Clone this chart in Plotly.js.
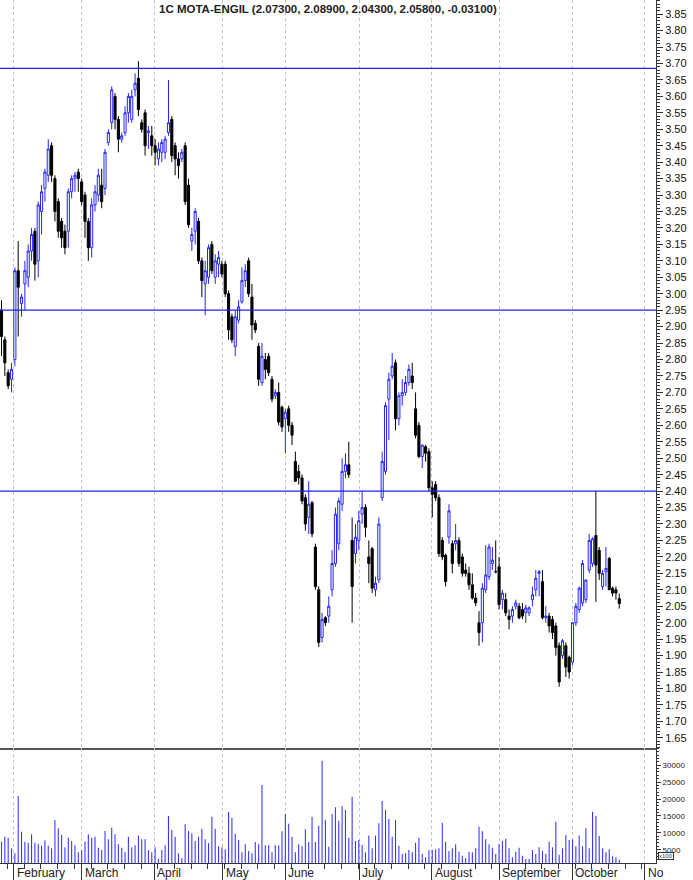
<!DOCTYPE html>
<html><head><meta charset="utf-8">
<script src="https://cdn.plot.ly/plotly-3.0.1.min.js"></script>
<style>html,body{margin:0;padding:0;background:#fff}#chart{width:693px;height:880px}</style>
</head><body><div id="chart"></div>
<script>
const titleText = '1C MOTA-ENGIL (2.07300, 2.08900, 2.04300, 2.05800, -0.03100)';
const openP = [2.95,2.86,2.76,2.74,2.80,3.07,2.97,3.03,3.05,3.13,3.19,3.10,3.25,3.32,3.36,3.45,3.35,3.28,3.22,3.19,
3.19,3.31,3.35,3.37,3.34,3.30,3.22,3.14,3.27,3.30,3.33,3.32,3.46,3.52,3.60,3.53,3.47,3.49,3.55,3.53,
3.62,3.655,3.52,3.55,3.49,3.48,3.45,3.41,3.43,3.43,3.49,3.53,3.45,3.41,3.41,3.45,3.33,3.16,3.19,3.22,
3.10,3.03,3.05,3.15,3.05,3.09,3.09,3.09,3.00,2.93,2.84,2.92,2.975,3.04,3.10,2.99,2.91,2.84,2.73,2.80,
2.81,2.74,2.69,2.70,2.655,2.62,2.65,2.60,2.49,2.46,2.44,2.38,2.32,2.365,2.23,2.10,1.955,2.015,2.02,2.10,
2.18,2.24,2.36,2.46,2.48,2.25,2.21,2.25,2.33,2.35,2.20,2.225,2.10,2.13,2.38,2.46,2.68,2.75,2.79,2.62,
2.69,2.70,2.73,2.75,2.65,2.60,2.505,2.535,2.52,2.41,2.42,2.38,2.25,2.205,2.26,2.24,2.24,2.25,2.20,2.16,
2.15,2.115,2.075,2.00,2.00,2.10,2.14,2.18,2.155,2.17,2.07,2.07,2.02,2.02,2.05,2.05,2.04,2.03,2.03,2.07,
2.10,2.15,2.125,2.015,2.02,2.01,1.99,1.93,1.90,1.93,1.895,1.88,2.00,2.04,2.06,2.07,2.16,2.18,2.265,2.22,
2.11,2.155,2.195,2.105,2.10,2.073];
const highP = [2.98,2.87,2.77,2.79,3.08,3.16,3.00,3.10,3.15,3.20,3.20,3.28,3.33,3.38,3.47,3.46,3.36,3.29,3.23,3.21,
3.32,3.36,3.37,3.38,3.35,3.31,3.23,3.29,3.33,3.38,3.38,3.44,3.50,3.63,3.61,3.54,3.49,3.57,3.61,3.62,
3.67,3.707,3.53,3.56,3.51,3.51,3.47,3.46,3.47,3.48,3.65,3.54,3.46,3.43,3.44,3.46,3.35,3.20,3.26,3.23,
3.11,3.10,3.15,3.16,3.12,3.13,3.10,3.10,3.01,2.94,2.95,2.98,3.08,3.09,3.11,3.03,2.92,2.85,2.85,2.82,
2.82,2.75,2.71,2.73,2.66,2.65,2.66,2.61,2.52,2.48,2.45,2.39,2.43,2.37,2.24,2.11,2.03,2.02,2.08,2.22,
2.35,2.38,2.50,2.515,2.55,2.32,2.30,2.34,2.40,2.36,2.25,2.23,2.14,2.32,2.52,2.67,2.76,2.82,2.80,2.70,
2.74,2.75,2.785,2.79,2.70,2.61,2.54,2.54,2.53,2.43,2.43,2.39,2.26,2.21,2.36,2.25,2.30,2.26,2.21,2.18,
2.17,2.15,2.09,2.035,2.12,2.235,2.24,2.23,2.25,2.20,2.10,2.09,2.04,2.05,2.07,2.06,2.06,2.055,2.05,2.11,
2.16,2.16,2.16,2.05,2.03,2.02,2.00,1.94,1.95,1.94,1.90,2.00,2.06,2.11,2.19,2.13,2.27,2.26,2.40,2.23,
2.16,2.23,2.20,2.11,2.11,2.089];
const lowP = [2.81,2.75,2.71,2.70,2.78,2.87,2.93,2.95,3.02,3.10,3.04,3.05,3.18,3.28,3.34,3.34,3.22,3.17,3.14,3.12,
3.14,3.29,3.31,3.31,3.27,3.17,3.10,3.11,3.25,3.28,3.26,3.30,3.45,3.50,3.50,3.43,3.46,3.48,3.52,3.52,
3.60,3.54,3.49,3.42,3.44,3.42,3.39,3.39,3.40,3.41,3.48,3.40,3.36,3.35,3.40,3.27,3.20,3.13,3.15,3.09,
2.99,2.935,3.03,3.06,3.03,3.05,3.05,2.99,2.86,2.85,2.81,2.91,2.97,3.02,2.99,2.86,2.88,2.72,2.72,2.74,
2.75,2.67,2.68,2.60,2.58,2.515,2.58,2.54,2.43,2.42,2.36,2.28,2.27,2.26,2.10,1.926,1.94,1.99,2.00,2.08,
2.17,2.22,2.34,2.44,2.44,2.00,2.18,2.22,2.30,2.26,2.12,2.09,2.08,2.12,2.37,2.45,2.555,2.74,2.585,2.60,
2.66,2.69,2.72,2.71,2.56,2.50,2.47,2.49,2.40,2.32,2.37,2.20,2.19,2.11,2.24,2.15,2.22,2.17,2.14,2.14,
2.10,2.07,2.05,1.93,1.94,2.09,2.13,2.16,2.15,2.04,2.04,2.02,1.98,2.00,2.04,2.01,2.01,2.00,2.02,2.05,
2.08,2.08,2.01,2.00,1.97,1.95,1.90,1.805,1.89,1.835,1.83,1.87,1.99,2.03,2.05,2.06,2.15,2.17,2.063,2.13,
2.10,2.11,2.10,2.08,2.07,2.043];
const closeP = [2.87,2.79,2.72,2.77,3.07,3.02,2.99,3.07,3.13,3.18,3.09,3.27,3.31,3.37,3.44,3.36,3.25,3.19,3.17,3.14,
3.31,3.35,3.36,3.35,3.28,3.22,3.14,3.27,3.31,3.36,3.28,3.43,3.49,3.62,3.53,3.47,3.48,3.55,3.60,3.60,
3.64,3.56,3.50,3.45,3.495,3.45,3.43,3.44,3.46,3.47,3.52,3.42,3.41,3.39,3.43,3.28,3.21,3.18,3.25,3.10,
3.04,3.07,3.14,3.07,3.10,3.11,3.06,3.00,2.89,2.86,2.93,2.96,3.04,3.07,3.00,2.905,2.89,2.74,2.81,2.77,
2.76,2.68,2.70,2.61,2.595,2.64,2.60,2.57,2.43,2.44,2.37,2.30,2.36,2.27,2.11,1.94,2.01,2.00,2.05,2.18,
2.33,2.37,2.46,2.48,2.45,2.11,2.26,2.31,2.35,2.29,2.18,2.105,2.12,2.30,2.49,2.66,2.74,2.78,2.62,2.69,
2.70,2.73,2.77,2.73,2.57,2.505,2.54,2.515,2.41,2.39,2.38,2.21,2.20,2.125,2.34,2.18,2.25,2.18,2.15,2.15,
2.115,2.075,2.06,1.97,2.105,2.145,2.23,2.19,2.155,2.055,2.09,2.03,2.01,2.04,2.06,2.015,2.02,2.045,2.045,2.085,
2.135,2.155,2.015,2.02,1.99,1.97,1.925,1.82,1.945,1.865,1.85,2.00,2.05,2.105,2.18,2.13,2.25,2.255,2.175,2.15,
2.15,2.165,2.10,2.09,2.09,2.058];
const volume = [7370,8850,8550,5400,3940,20900,10300,7370,7070,9560,
7070,6690,6190,7780,6190,5400,13800,11330,9350,5710,
8550,7580,6300,4230,4910,7370,9560,8550,8850,5600,
4910,10530,8060,11520,9560,6600,5600,4230,8850,5710,
6300,9170,8060,8060,4910,4230,5710,2250,4910,6300,
14980,10830,8850,3940,2450,12520,10530,9860,7580,8850,
11220,8060,6900,14770,11220,6000,5710,5120,16160,14380,
9740,7870,4230,6600,4620,3940,7270,6600,24150,6300,
6300,4230,6300,6300,10430,15570,12700,8850,4230,6600,
6000,11040,7270,14770,7270,12110,31350,13800,5900,15570,
17550,13590,17940,16750,8550,
20700,7580,7870,6390,4230,9170,5400,9170,12810,19420,
16750,14090,8850,13800,6190,3730,3940,4910,4230,7070,
8550,3730,2750,4910,4910,5120,5400,13000,7370,4620,
5400,6600,4420,3230,2450,4420,4230,5400,11810,10430,
8060,6600,5600,3730,6690,7680,8260,5400,2750,4420,
5600,3230,2250,2250,4910,3730,5710,4620,3730,7370,
5710,13290,3530,5400,9350,7870,8060,6000,9170,6000,
11330,5400,16260,14980,9060,5400,4230,5120,3040,2750,
2000];
const volumeTicks = [5000, 10000, 15000, 20000, 25000, 30000];
const monthStart = [3.74, 24.1, 45.7, 66.3, 84.9, 107.1, 128.9, 149.0, 170.9, 192.7];
const monthNames = ['February','March','April','May','June','July','August','September','October','No'];
const levels = [3.685, 2.95, 2.40];

const idx = closeP.map((_, i) => i);
const narrow = 'Liberation Sans Narrow, Arial Narrow, Liberation Sans, Arial, sans-serif';
const sans = 'Liberation Sans, Arial, sans-serif';
const split = 115 / 863;

const traces = [
  {type:'candlestick', x: idx, open: openP, high: highP, low: lowP, close: closeP,
   xaxis:'x', yaxis:'y', whiskerwidth:0, hoverinfo:'skip',
   increasing:{line:{color:'#2424ff', width:1}, fillcolor:'#ffffff'},
   decreasing:{line:{color:'#000000', width:1}, fillcolor:'#000000'}},
  {type:'bar', x: idx, y: volume, xaxis:'x2', yaxis:'y2', width:0.32,
   marker:{color:'#3535ff', line:{width:0}}, hoverinfo:'skip'}
];

const annotations = [
  {text: titleText, xref:'paper', yref:'paper', x: 328/656, y: 1 - 9/863,
   xanchor:'center', yanchor:'middle', showarrow:false,
   font:{family: narrow, size:11.5, color:'#222', weight:'bold'}}
];
monthStart.forEach((m, k) => annotations.push({
  text: monthNames[k], xref:'x2', yref:'paper', x: m, y: -10/863,
  xanchor:'left', yanchor:'middle', xshift:1, showarrow:false,
  font:{family: sans, size:12, color:'#222'}
}));
annotations.push({text:'x100', xref:'paper', yref:'paper', x:1, y: 7/863,
  xanchor:'left', yanchor:'middle', xshift:2, showarrow:false,
  font:{family: sans, size:6, color:'#333'}, bordercolor:'#333', borderwidth:1, borderpad:0});

const layout = {
  width:693, height:880,
  margin:{l:0, r:37, t:0, b:17, pad:0},
  paper_bgcolor:'#ffffff', plot_bgcolor:'#ffffff',
  showlegend:false,
  boxgap:0.1,
  font:{family: sans, size:11, color:'#222'},
  xaxis:{domain:[0,1], range:[-0.45,196], anchor:'y', tickmode:'array', tickvals: monthStart,
    showticklabels:false, ticks:'', showgrid:true, gridcolor:'#c4c4c4', griddash:'3px,3px', gridwidth:1,
    zeroline:false, showline:true, linecolor:'#555', linewidth:2, rangeslider:{visible:false}, fixedrange:true},
  xaxis2:{domain:[0,1], range:[-0.45,196], anchor:'y2', tickmode:'array', tickvals: monthStart,
    showticklabels:false, ticks:'outside', ticklen:17, tickcolor:'#333', tickwidth:1,
    showgrid:true, gridcolor:'#c4c4c4', griddash:'3px,3px', gridwidth:1,
    zeroline:false, showline:true, linecolor:'#333', linewidth:1,
    minor:{ticks:'outside', dtick:5, tick0:1.8, ticklen:5, tickcolor:'#333', showgrid:false}},
  yaxis:{domain:[split,1], range:[1.619,3.893], side:'right', anchor:'x',
    tickmode:'linear', tick0:1.65, dtick:0.05, tickformat:'.2f',
    ticks:'outside', ticklen:6, tickcolor:'#333', showline:true, linecolor:'#333', linewidth:1,
    showgrid:false, zeroline:false, tickfont:{family: sans, size:11, color:'#111'},
    minor:{ticks:'outside', dtick:0.01, tick0:1.65, ticklen:3, tickcolor:'#333', showgrid:false}},
  yaxis2:{domain:[0,split], range:[1066,35100], side:'right', anchor:'x2',
    tickmode:'array', tickvals: volumeTicks, ticktext: volumeTicks.map(String),
    ticks:'outside', ticklen:4, tickcolor:'#333',
    showline:true, linecolor:'#333', linewidth:1, showgrid:false, zeroline:false,
    tickfont:{family: sans, size:8, color:'#222'},
    minor:{ticks:'outside', tickmode:'linear', tick0:0, dtick:1000, ticklen:2, tickcolor:'#333', showgrid:false}},
  shapes: levels.map(v => ({type:'line', xref:'x domain', yref:'y', x0:0, x1:1, y0:v, y1:v,
    line:{color:'#1f1fff', width:1.3}})),
  annotations: annotations
};

Plotly.newPlot('chart', traces, layout, {staticPlot:true, displayModeBar:false});
</script>
</body></html>
